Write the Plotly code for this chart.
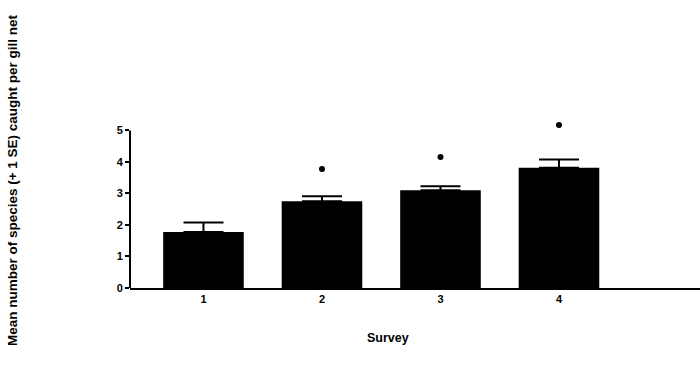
import plotly.graph_objects as go

surveys = ["1", "2", "3", "4"]
means = [1.78, 2.75, 3.10, 3.82]
se = [0.30, 0.16, 0.13, 0.26]
sig_y = [None, 3.78, 4.16, 5.17]
y_ticks = [0, 1, 2, 3, 4, 5]

font_fam = "Liberation Sans, Arial, sans-serif"

fig = go.Figure()
fig.add_trace(go.Bar(
    x=surveys, y=means, width=0.68,
    marker=dict(color="black", line=dict(width=0)),
    error_y=dict(type="data", array=se, arrayminus=[0]*4, symmetric=False,
                 color="black", thickness=2, width=20),
    showlegend=False,
))
fig.add_trace(go.Scatter(
    x=surveys, y=sig_y, mode="markers",
    marker=dict(color="black", size=6, symbol="circle"),
    cliponaxis=False, showlegend=False,
))

# y axis line only from 0 to 5
fig.add_shape(type="line", xref="paper", yref="y", x0=0, x1=0,
              y0=y_ticks[0], y1=y_ticks[-1], line=dict(color="black", width=2))

fig.add_annotation(text="Mean number of species (+ 1 SE) caught per gill net",
                   xref="paper", yref="paper", x=-0.205, y=0.647,
                   xanchor="center", yanchor="middle", textangle=-90,
                   showarrow=False,
                   font=dict(size=13.5, family=font_fam, weight="bold"))
fig.add_annotation(text="Survey", xref="paper", yref="paper",
                   x=0.453, y=-0.30, xanchor="center", yanchor="middle",
                   showarrow=False,
                   font=dict(size=12.5, family=font_fam, weight="bold"))

fig.update_layout(
    width=700, height=381,
    margin=dict(l=130, r=0, t=121, b=93, pad=0),
    plot_bgcolor="white", paper_bgcolor="white",
    font=dict(family=font_fam, color="black", size=11),
    xaxis=dict(
        range=[-0.62, 4.19], showline=True, linecolor="black", linewidth=2,
        ticks="", showgrid=False, zeroline=False,
        tickfont=dict(size=11, family=font_fam, weight="bold"),
    ),
    yaxis=dict(
        range=[0, 5.3], showline=False,
        ticks="outside", ticklen=4, tickwidth=2, tickcolor="black",
        tickvals=y_ticks, showgrid=False, zeroline=False,
        tickfont=dict(size=11, family=font_fam, weight="bold"),
    ),
)
fig.write_html("out.html")
